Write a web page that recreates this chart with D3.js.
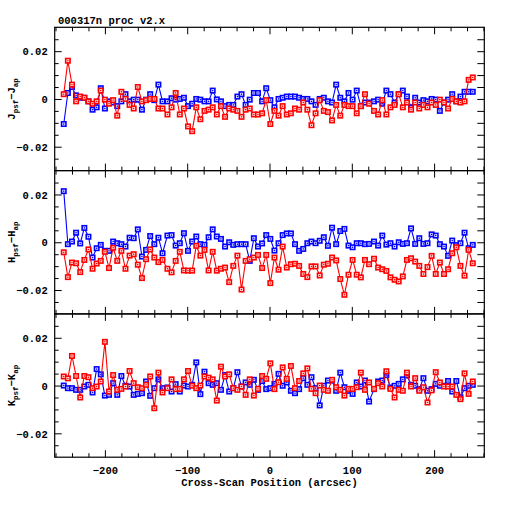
<!DOCTYPE html>
<html>
<head>
<meta charset="utf-8">
<script src="https://cdn.jsdelivr.net/npm/d3@7"></script>
<style>
  html, body { margin: 0; padding: 0; background: #fff; }
  svg text { font-family: "Liberation Mono", "DejaVu Sans Mono", monospace; font-weight: bold; fill: #000; }
</style>
</head>
<body>
<svg id="chart" width="512" height="512"></svg>
<script>
// cross-scan positions (arcsec)
const xPos = [
  -250, -245, -240, -235, -230, -225, -220, -215, -210, -205,
  -200, -195, -190, -185, -180, -175, -170, -165, -160, -155,
  -150, -145, -140, -135, -130, -124, -119, -114, -109, -104,
  -99, -94, -89, -84, -79, -74, -69, -64, -59, -54,
  -49, -44, -39, -34, -29, -24, -19, -14, -9, -4,
  1, 6, 11, 16, 21, 26, 31, 36, 41, 46,
  51, 56, 61, 66, 71, 76, 81, 86, 91, 96,
  101, 106, 111, 116, 121, 127, 132, 137, 142, 147,
  152, 157, 162, 167, 172, 177, 182, 187, 192, 197,
  202, 207, 212, 217, 222, 227, 232, 237, 242, 247
];

const jBlue = [
  -0.0105, 0.0025, 0.005, 0.0015, 0.0005, 0.0005, -0.001, -0.0045, -0.0035, 0.0045,
  -0.004, -0.001, -0.0015, -0.003, -0.001, 0.002, -0.001, -0.0003, -0.0003, -0.0045,
  -0.0003, 0.002, -0.0005, 0.006, -0.001, -0.001, 0.0003, -0.0003, 0, 0.0005,
  -0.003, -0.002, 0, -0.0003, -0.001, -0.001, 0.0035, -0.0002, -0.001, -0.003,
  -0.0025, -0.0025, 0.001, 0.002, -0.0025, -0.0003, 0.0025, 0.0025, -0.001, 0.0045,
  -0.0005, -0.0035, 0, 0.0005, 0.001, 0.001, 0.001, 0.0005, 0, 0,
  -0.001, -0.0025, 0, 0.0005, -0.001, -0.0015, 0.006, 0.0005, -0.001, 0.0025,
  -0.0003, 0.0035, -0.003, -0.0015, -0.0015, -0.001, -0.0003, -0.002, 0.0035, 0.002,
  -0.0015, 0.002, 0.0035, 0.001, -0.0035, 0.0005, -0.0015, -0.0005, -0.001, 0,
  -0.0003, -0.005, -0.0015, -0.0003, 0.002, -0.001, 0.001, 0.003, 0.003, 0.003
];
const jRed = [
  0.002, 0.016, 0.006, -0.001, 0.001, 0.0005, -0.001, -0.002, -0.001, 0.0035,
  -0.0003, -0.002, -0.0005, -0.007, 0.003, 0, -0.0025, -0.004, 0.005, -0.001,
  -0.0005, 0, 0, -0.004, -0.004, -0.0065, -0.0035, 0.0025, -0.0065, -0.004,
  -0.0115, -0.0135, -0.0035, -0.0085, -0.005, -0.0045, -0.0035, -0.0065, -0.003, -0.0075,
  -0.004, -0.0045, -0.005, -0.0075, -0.0045, -0.004, -0.0065, -0.0065, -0.006, -0.0005,
  -0.0105, -0.005, -0.007, -0.003, -0.0065, -0.006, -0.004, -0.0045, -0.0015, -0.0045,
  -0.011, -0.006, -0.0005, -0.005, -0.0055, -0.009, -0.0025, -0.007, -0.0025, -0.003,
  -0.003, -0.006, -0.003, 0.002, -0.002, -0.005, -0.0065, -0.0005, -0.0065, -0.0035,
  -0.0025, 0.002, -0.0035, -0.0015, -0.0045, -0.0015, -0.004, -0.0025, -0.0035, -0.0015,
  -0.0025, -0.0003, -0.0015, -0.004, 0, -0.001, -0.0015, -0.001, 0.008, 0.009
];

const hBlue = [
  0.0214, -0.0008, 0.0003, 0.004, -0.0005, 0.006, 0.0023, -0.0064, -0.0025, -0.0011,
  -0.0036, -0.0036, 0.0003, -0.0004, -0.0008, -0.0018, 0.0019, 0.0017, 0.0054, -0.006,
  -0.0032, 0.0026, -0.0008, 0.0019, -0.0046, 0.0028, 0.003, -0.0014, -0.0004, 0.0038,
  -0.0036, 0.0003, 0.0024, -0.0008, -0.0011, 0.0021, 0.0054, 0.0024, 0.0014, -0.0018,
  0, -0.0011, -0.0008, -0.0008, -0.0008, -0.0078, 0.0017, -0.0018, -0.0005, 0.003,
  0.0014, -0.0035, -0.0004, 0.003, 0.0037, 0.0037, -0.0008, -0.0036, -0.0028, -0.0004,
  0.0003, -0.0004, 0.0006, 0.0021, -0.0015, 0.0061, -0.0008, 0.0047, 0.0056, -0.0014,
  -0.0021, -0.0004, -0.0004, -0.0008, -0.0007, 0.0003, -0.0014, 0.0028, -0.001, -0.0004,
  -0.0018, 0, -0.0007, -0.0004, 0.0058, -0.0007, 0.0017, -0.0007, -0.0004, 0.0033,
  0.0028, -0.0008, -0.0018, -0.0057, 0.0007, -0.0012, -0.0004, 0.004, -0.0025, -0.0011
];
const hRed = [
  -0.0042, -0.0146, -0.0085, -0.0088, -0.0125, -0.0074, -0.003, -0.0111, -0.0089, -0.0078,
  -0.004, -0.0108, -0.0023, -0.0078, -0.0036, -0.0111, -0.0056, -0.005, -0.0094, -0.015,
  -0.0071, -0.003, -0.0064, -0.0083, -0.0074, -0.0111, -0.0126, -0.0078, -0.004, -0.0118,
  -0.0119, -0.0119, -0.0015, -0.0056, -0.0032, -0.0118, -0.004, -0.0119, -0.0111, -0.0106,
  -0.0167, -0.0099, -0.0056, -0.0198, -0.0078, -0.0071, -0.0064, -0.0053, -0.0108, -0.0053,
  -0.0171, -0.0064, -0.0115, -0.0018, -0.0106, -0.0092, -0.009, -0.0099, -0.0133, -0.0146,
  -0.0101, -0.0101, -0.0139, -0.0094, -0.009, -0.0064, -0.0076, -0.0154, -0.022, -0.0136,
  -0.0074, -0.0136, -0.0147, -0.0074, -0.0092, -0.0069, -0.0106, -0.0113, -0.012, -0.0147,
  -0.0157, -0.0164, -0.0143, -0.0074, -0.0067, -0.0081, -0.0099, -0.0133, -0.0104, -0.0057,
  -0.0133, -0.0085, -0.0133, -0.0113, -0.0046, -0.0021, -0.0099, -0.014, -0.0032, -0.0088
];

const kBlue = [
  0, -0.0011, -0.0011, -0.0018, -0.0018, -0.0004, 0.0003, -0.0029, 0.0069, 0.0047,
  -0.0042, -0.0039, 0.001, -0.0039, 0.004, -0.0001, -0.0004, -0.0039, -0.0035, -0.0032,
  0.0017, -0.0043, -0.0011, 0.0026, -0.0011, -0.0008, -0.0025, 0.0006, -0.0025, 0,
  -0.0004, 0.0003, 0.0097, -0.0036, 0.0058, 0.001, 0.0003, 0.001, -0.0018, 0.0044,
  -0.0025, -0.0011, 0.0056, -0.0004, 0.0013, 0.0003, 0.0024, -0.0018, 0.0019, -0.0015,
  -0.0011, 0.0007, 0.0049, -0.0001, 0.0013, -0.0022, -0.0032, -0.0015, 0.0031, 0.0003,
  0.0035, -0.0011, -0.0083, -0.0001, 0.0021, 0.0021, -0.0022, 0.0054, -0.0007, -0.0022,
  -0.0035, 0.0013, -0.0004, 0.0021, -0.0067, -0.0015, 0.0017, 0.0021, 0.0044, -0.0008,
  -0.0001, 0.0007, 0.0026, 0.0042, 0.0003, -0.0001, -0.0015, 0.0031, -0.0022, -0.0015,
  0.0007, -0.0001, -0.0001, 0.0019, -0.0025, 0.0019, -0.0049, -0.0011, -0.0001, 0.0003
];
const kRed = [
  0.0038, 0.003, 0.0124, 0.004, -0.005, 0.004, 0.0035, -0.0011, -0.0004, 0.0017,
  0.0183, -0.0025, 0.0044, -0.0018, -0.0014, -0.0004, 0.0061, 0.001, -0.0007, -0.0011,
  0.0003, 0.0038, -0.0095, 0.0054, -0.0029, -0.0011, 0.0026, -0.0015, -0.0014, 0.0026,
  0.0061, -0.0001, -0.0011, 0, 0.0038, 0.0033, 0.0026, -0.0063, 0.0079, 0.0038,
  0.0047, -0.0011, -0.0018, -0.0004, -0.0039, 0.0026, -0.0042, -0.0014, 0.004, 0.0028,
  0.0093, -0.0015, 0.0014, 0.0076, 0.0028, 0.0082, -0.0011, 0.0019, 0.0051, 0.0072,
  -0.0014, -0.0032, 0, -0.0018, -0.0022, 0.0024, -0.0007, -0.0018, -0.0042, -0.0014,
  -0.0014, -0.0007, 0.0054, -0.0018, 0.0013, -0.0014, 0.001, -0.0004, 0.006, -0.0014,
  -0.005, -0.0018, -0.0022, 0.0054, -0.0004, 0.0031, -0.0022, -0.0007, -0.0071, -0.002,
  0.0056, 0.0013, -0.0004, -0.0004, -0.0004, -0.0039, -0.0057, 0.0051, -0.0035, 0.0017
];

const bands = ["J", "H", "K"];
const blueSeries = [jBlue, hBlue, kBlue];
const redSeries = [jRed, hRed, kRed];

const yMajor = [-0.02, 0, 0.02];
const yMinor = [-0.025, -0.015, -0.01, -0.005, 0.005, 0.01, 0.015, 0.025];
const xMajor = [-200, -100, 0, 100, 200];
const xMinor = [-260, -240, -220, -180, -160, -140, -120, -80, -60, -40, -20,
                20, 40, 60, 80, 120, 140, 160, 180, 220, 240, 260];

const titleText = "000317n proc v2.x";
const xTitle = "Cross-Scan Position (arcsec)";

const LEFT = 54.7, RIGHT = 484.3, TOP = 27.3, PANEL_H = 143.3;

const svg = d3.select("#chart");
const x = d3.scaleLinear().domain([-261, 261]).range([LEFT, RIGHT]);

svg.append("text")
  .attr("x", 58).attr("y", 24)
  .attr("font-size", 10.5)
  .text(titleText);

bands.forEach((band, p) => {
  const top = TOP + p * PANEL_H;
  const bottom = top + PANEL_H;
  const y = d3.scaleLinear().domain([-0.03, 0.03]).range([bottom, top]);
  const g = svg.append("g").attr("class", "panel");

  const line = d3.line().x((d, i) => x(xPos[i])).y(d => y(d));

  [[blueSeries[p], "#0000ff"], [redSeries[p], "#ff0000"]].forEach(([vals, col]) => {
    g.append("path")
      .datum(vals)
      .attr("d", line)
      .attr("fill", "none")
      .attr("stroke", col)
      .attr("stroke-width", 1.1);
    const m = g.append("g").selectAll("g").data(vals).enter().append("g")
      .attr("transform", (d, i) => `translate(${x(xPos[i])},${y(d)})`);
    m.append("rect")
      .attr("x", -2.2).attr("y", -2.2).attr("width", 4.4).attr("height", 4.4)
      .attr("fill", "#fff").attr("stroke", col).attr("stroke-width", 1.6);
    m.append("rect")
      .attr("x", -0.7).attr("y", -0.7).attr("width", 1.4).attr("height", 1.4)
      .attr("fill", col);
  });

  // axes: all ticks point inward
  const axG = g.append("g").attr("font-size", 10.5);
  const left = axG.append("g").attr("transform", `translate(${LEFT},0)`)
    .call(d3.axisLeft(y).tickValues(yMajor).tickSize(-7).tickSizeOuter(0).tickPadding(7)
      .tickFormat(d => d === 0 ? "0" : d3.format(".2f")(d)));
  axG.append("g").attr("transform", `translate(${LEFT},0)`)
    .call(d3.axisLeft(y).tickValues(yMinor).tickSize(-4).tickSizeOuter(0).tickFormat(""));
  axG.append("g").attr("transform", `translate(${RIGHT},0)`)
    .call(d3.axisRight(y).tickValues(yMajor.concat(yMinor)).tickSize(-7).tickSizeOuter(0).tickFormat(""));
  axG.append("g").attr("transform", `translate(0,${top})`)
    .call(d3.axisTop(x).tickValues(xMajor).tickSize(-7).tickSizeOuter(0).tickFormat(""));
  axG.append("g").attr("transform", `translate(0,${top})`)
    .call(d3.axisTop(x).tickValues(xMinor).tickSize(-4).tickSizeOuter(0).tickFormat(""));
  const bottomAx = d3.axisBottom(x).tickValues(xMajor).tickSize(-7).tickSizeOuter(0).tickPadding(9);
  if (p < 2) bottomAx.tickFormat("");
  axG.append("g").attr("transform", `translate(0,${bottom})`).call(bottomAx);
  axG.append("g").attr("transform", `translate(0,${bottom})`)
    .call(d3.axisBottom(x).tickValues(xMinor).tickSize(-4).tickSizeOuter(0).tickFormat(""));

  axG.selectAll(".domain").remove();
  axG.selectAll(".tick line").attr("stroke", "#000").attr("stroke-width", 1);
  axG.selectAll("text").attr("font-family", null).attr("font-size", 10.5);
  left.selectAll("text").attr("dy", "0.35em");

  g.append("rect")
    .attr("x", LEFT).attr("y", top)
    .attr("width", RIGHT - LEFT).attr("height", PANEL_H)
    .attr("fill", "none").attr("stroke", "#000").attr("stroke-width", 1.2);

  // y label: band_psf - band_ap
  const lab = g.append("text")
    .attr("transform", `translate(15,${y(0)}) rotate(-90)`)
    .attr("text-anchor", "middle")
    .attr("font-size", 10.5);
  lab.append("tspan").text(band);
  lab.append("tspan").attr("font-size", 7.5).attr("dy", 2.5).text("psf");
  lab.append("tspan").attr("dy", -2.5).text("\u2212" + band);
  lab.append("tspan").attr("font-size", 7.5).attr("dy", 2.5).text("ap");
});

svg.append("text")
  .attr("x", x(0)).attr("y", 486)
  .attr("text-anchor", "middle")
  .attr("font-size", 10.5)
  .text(xTitle);
</script>
</body>
</html>
